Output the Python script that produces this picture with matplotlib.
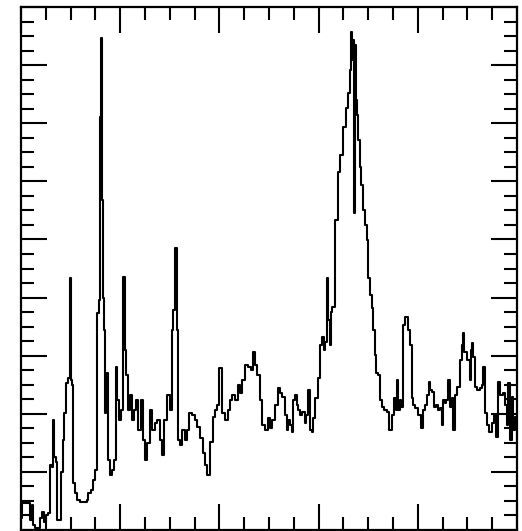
import matplotlib
matplotlib.use("Agg")
import matplotlib.pyplot as plt
from matplotlib.ticker import MultipleLocator, NullFormatter

channel = [0, 1, 6, 9, 11, 12, 14, 17, 19, 21, 23, 25, 27, 29, 31, 32, 33, 35, 36, 39,
           40, 42, 43, 45, 47, 49, 50, 51, 52, 54, 56, 59, 64, 67, 68, 71, 73, 75, 77, 79,
           80, 81, 82, 83, 84, 85, 86, 88, 90, 92, 94, 96, 97, 99, 101, 103, 105, 106, 108, 110,
           112, 114, 116, 118, 121, 123, 125, 127, 130, 132, 135, 137, 140, 142, 144, 147, 150, 152, 153, 155,
           157, 158, 160, 162, 165, 167, 169, 172, 175, 177, 180, 183, 185, 187, 191, 194, 196, 198, 200, 203,
           206, 209, 211, 213, 216, 219, 221, 223, 226, 229, 232, 234, 236, 238, 241, 243, 246, 249, 251, 253,
           256, 259, 261, 263, 266, 268, 269, 271, 273, 274, 276, 278, 279, 281, 283, 286, 287, 289, 291, 293,
           294, 296, 298, 299, 301, 303, 305, 306, 308, 309, 311, 313, 314, 317, 320, 322, 325, 328, 330, 332,
           333, 334, 335, 336, 337, 338, 339, 340, 342, 343, 345, 347, 349, 350, 352, 354, 355, 357, 358, 360,
           362, 364, 366, 369, 371, 374, 376, 378, 379, 380, 382, 383, 385, 387, 390, 392, 394, 395, 397, 400,
           403, 405, 407, 409, 411, 412, 414, 416, 418, 420, 422, 424, 425, 427, 428, 430, 432, 434, 435, 437,
           440, 443, 445, 446, 447, 450, 453, 454, 455, 456, 458, 460, 463, 465, 466, 468, 470, 472, 475, 477,
           479, 481, 483, 486, 488, 490, 491, 493, 495, 496, 498, 500]

counts = [21, 46, 46, 17, 43, 9, 3, 3, 21, 31, 14, 26, 29, 112, 108, 189, 126, 117, 17, 17,
          100, 155, 201, 253, 262, 434, 258, 250, 81, 64, 52, 48, 48, 52, 64, 69, 86, 103, 373, 396,
          711, 847, 568, 399, 344, 201, 270, 120, 95, 103, 120, 281, 224, 189, 207, 435, 310, 267, 207, 232,
          189, 207, 224, 172, 224, 155, 120, 150, 207, 172, 184, 189, 155, 129, 189, 232, 207, 344, 379, 485,
          344, 155, 146, 172, 155, 172, 201, 198, 189, 177, 158, 133, 112, 95, 151, 194, 207, 215, 279, 201,
          189, 207, 224, 232, 224, 250, 236, 258, 284, 281, 275, 306, 284, 267, 224, 181, 172, 193, 176, 189,
          215, 244, 236, 229, 198, 172, 189, 181, 169, 224, 232, 215, 207, 198, 203, 184, 198, 241, 172, 169,
          193, 227, 227, 262, 318, 332, 310, 324, 434, 361, 318, 375, 384, 534, 616, 645, 694, 726, 752, 792,
          857, 809, 843, 546, 835, 740, 714, 671, 625, 594, 551, 525, 499, 434, 404, 382, 344, 301, 270, 267,
          224, 212, 207, 203, 172, 198, 227, 207, 258, 207, 224, 212, 353, 367, 344, 318, 227, 215, 210, 198,
          176, 207, 215, 232, 255, 241, 237, 212, 215, 207, 210, 181, 224, 219, 224, 258, 212, 227, 172, 232,
          246, 293, 318, 339, 306, 293, 258, 310, 322, 298, 246, 241, 244, 250, 281, 201, 181, 169, 184, 198,
          160, 255, 232, 236, 215, 181, 253, 155, 229, 172, 194, 129]

fig = plt.figure(figsize=(5.22, 5.31), dpi=100)
ax = fig.add_axes([21 / 522, 1 / 531, 496 / 522, 523 / 531])
ax.step(channel, counts, where="post", color="black", linewidth=1.5)

ax.set_xlim(0, 500)
ax.set_ylim(0, 900)
ax.xaxis.set_major_locator(MultipleLocator(100))
ax.xaxis.set_minor_locator(MultipleLocator(25))
ax.yaxis.set_major_locator(MultipleLocator(100))
ax.yaxis.set_minor_locator(MultipleLocator(25))
ax.xaxis.set_major_formatter(NullFormatter())
ax.yaxis.set_major_formatter(NullFormatter())
ax.tick_params(which="both", direction="in", top=True, right=True, width=1.5, color="black")
ax.tick_params(which="major", length=19)
ax.tick_params(which="minor", length=9.5)
for s in ax.spines.values():
    s.set_linewidth(1.6)
    s.set_color("black")

fig.savefig("out.png", dpi=100)
